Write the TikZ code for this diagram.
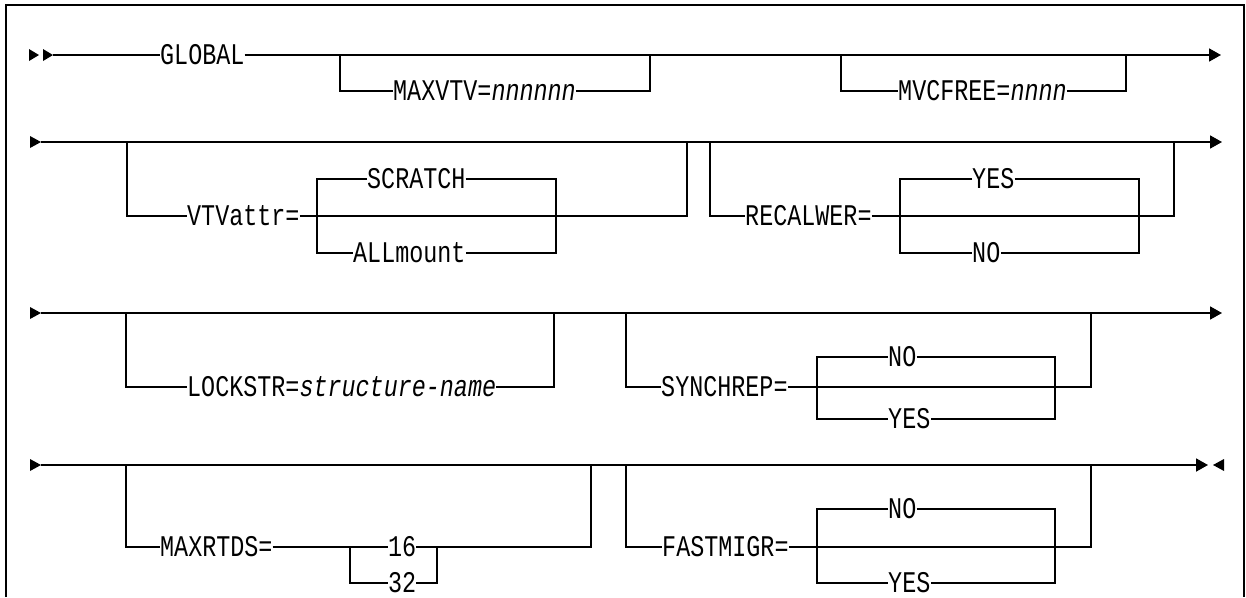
\documentclass[tikz,border=0pt]{standalone}
\usepackage{fontspec}
\newfontfamily\rrfont[FakeStretch=0.78]{Liberation Mono}
\usetikzlibrary{arrows.meta}
\begin{document}
\begin{tikzpicture}[x=1pt,y=-1pt,
  rail/.style={line width=1.8pt},
  lbl/.style={inner sep=0pt, text height=19.8pt, text depth=0pt, anchor=west,
    font=\rrfont\fontsize{30}{34}\selectfont},
  endarrow/.style={-{Triangle[length=12pt,width=13pt]}},
  frameline/.style={line width=2.5pt}]
\useasboundingbox (0,0) rectangle (1246,597);
% frame
\draw[frameline] (6,597) -- (6,5) -- (1244,5) -- (1244,597);

% ---------------- Row 1 ----------------
\fill (29,49) -- (39,55) -- (29,61) -- cycle;
\fill (43,49) -- (53,55) -- (43,61) -- cycle;
\coordinate (s1) at (53,55);
\coordinate (e1) at (1221,55);
\node[lbl] (global) at (160,55) {GLOBAL};
\draw[rail] (s1) -- (global.west);
\draw[rail,endarrow] (global.east) -- (e1);
% MAXVTV
\coordinate (mv1) at (340,55); \coordinate (mv2) at (340,91);
\coordinate (mv3) at (650,91); \coordinate (mv4) at (650,55);
\node[lbl] (maxvtv) at (393,91) {MAXVTV=\textit{nnnnnn}};
\draw[rail] (mv1) -- (mv2) -- (maxvtv.west);
\draw[rail] (maxvtv.east) -- (mv3) -- (mv4);
% MVCFREE
\coordinate (mf1) at (841,55); \coordinate (mf2) at (841,91);
\coordinate (mf3) at (1126,91); \coordinate (mf4) at (1126,55);
\node[lbl] (mvcfree) at (898,91) {MVCFREE=\textit{nnnn}};
\draw[rail] (mf1) -- (mf2) -- (mvcfree.west);
\draw[rail] (mvcfree.east) -- (mf3) -- (mf4);

% ---------------- Row 2 ----------------
\fill (30,136) -- (41,142) -- (30,148) -- cycle;
\coordinate (s2) at (41,142);
\coordinate (e2) at (1222,142);
\draw[rail,endarrow] (s2) -- (e2);
% VTVattr
\coordinate (vt1) at (127,142); \coordinate (vt2) at (127,216);
\coordinate (vt3) at (687,216); \coordinate (vt4) at (687,142);
\node[lbl] (vtvattr) at (187,216) {VTVattr=};
\draw[rail] (vt1) -- (vt2) -- (vtvattr.west);
\draw[rail] (vtvattr.east) -- (vt3) -- (vt4);
\coordinate (vi1) at (317,179); \coordinate (vi2) at (317,253);
\coordinate (vi3) at (556,179); \coordinate (vi4) at (556,253);
\node[lbl] (scratch) at (367,179) {SCRATCH};
\node[lbl] (allmount) at (353,253) {ALLmount};
\draw[rail] (scratch.west) -- (vi1) -- (vi2) -- (allmount.west);
\draw[rail] (scratch.east) -- (vi3) -- (vi4) -- (allmount.east);
% RECALWER
\coordinate (rc1) at (710,142); \coordinate (rc2) at (710,216);
\coordinate (rc3) at (1174,216); \coordinate (rc4) at (1174,142);
\node[lbl] (recalwer) at (745,216) {RECALWER=};
\draw[rail] (rc1) -- (rc2) -- (recalwer.west);
\draw[rail] (recalwer.east) -- (rc3) -- (rc4);
\coordinate (ri1) at (900,179); \coordinate (ri2) at (900,253);
\coordinate (ri3) at (1139,179); \coordinate (ri4) at (1139,253);
\node[lbl] (ryes) at (972,179) {YES};
\node[lbl] (rno) at (972,253) {NO};
\draw[rail] (ryes.west) -- (ri1) -- (ri2) -- (rno.west);
\draw[rail] (ryes.east) -- (ri3) -- (ri4) -- (rno.east);

% ---------------- Row 3 ----------------
\fill (30,307) -- (41,313) -- (30,319) -- cycle;
\coordinate (s3) at (41,313);
\coordinate (e3) at (1222,313);
\draw[rail,endarrow] (s3) -- (e3);
% LOCKSTR
\coordinate (lk1) at (126,313); \coordinate (lk2) at (126,387);
\coordinate (lk3) at (554,387); \coordinate (lk4) at (554,313);
\node[lbl] (lockstr) at (187,387) {LOCKSTR=\textit{structure-name}};
\draw[rail] (lk1) -- (lk2) -- (lockstr.west);
\draw[rail] (lockstr.east) -- (lk3) -- (lk4);
% SYNCHREP
\coordinate (sy1) at (626,313); \coordinate (sy2) at (626,387);
\coordinate (sy3) at (1091,387); \coordinate (sy4) at (1091,313);
\node[lbl] (synchrep) at (661,387) {SYNCHREP=};
\draw[rail] (sy1) -- (sy2) -- (synchrep.west);
\draw[rail] (synchrep.east) -- (sy3) -- (sy4);
\coordinate (si1) at (817,357); \coordinate (si2) at (817,419);
\coordinate (si3) at (1055,357); \coordinate (si4) at (1055,419);
\node[lbl] (sno) at (888,357) {NO};
\node[lbl] (syes) at (888,419) {YES};
\draw[rail] (sno.west) -- (si1) -- (si2) -- (syes.west);
\draw[rail] (sno.east) -- (si3) -- (si4) -- (syes.east);

% ---------------- Row 4 ----------------
\fill (30,459) -- (41,465) -- (30,471) -- cycle;
\coordinate (s4) at (41,465);
\coordinate (e4) at (1208,465);
\draw[rail,endarrow] (s4) -- (e4);
\fill (1224,459) -- (1213,465) -- (1224,471) -- cycle;
% MAXRTDS
\coordinate (mr1) at (126,465); \coordinate (mr2) at (126,547);
\coordinate (mr3) at (591,547); \coordinate (mr4) at (591,465);
\node[lbl] (maxrtds) at (160,547) {MAXRTDS=};
\node[lbl] (r16) at (388,547) {16};
\node[lbl] (r32) at (388,583) {32};
\coordinate (mi1) at (350,547); \coordinate (mi2) at (350,583);
\coordinate (mi3) at (437,547); \coordinate (mi4) at (437,583);
\draw[rail] (mr1) -- (mr2) -- (maxrtds.west);
\draw[rail] (maxrtds.east) -- (r16.west);
\draw[rail] (r16.east) -- (mr3) -- (mr4);
\draw[rail] (mi1) -- (mi2) -- (r32.west);
\draw[rail] (r32.east) -- (mi4) -- (mi3);
% FASTMIGR
\coordinate (fm1) at (626,465); \coordinate (fm2) at (626,547);
\coordinate (fm3) at (1091,547); \coordinate (fm4) at (1091,465);
\node[lbl] (fastmigr) at (662,547) {FASTMIGR=};
\draw[rail] (fm1) -- (fm2) -- (fastmigr.west);
\draw[rail] (fastmigr.east) -- (fm3) -- (fm4);
\coordinate (fi1) at (817,509); \coordinate (fi2) at (817,583);
\coordinate (fi3) at (1055,509); \coordinate (fi4) at (1055,583);
\node[lbl] (fno) at (888,509) {NO};
\node[lbl] (fyes) at (888,583) {YES};
\draw[rail] (fno.west) -- (fi1) -- (fi2) -- (fyes.west);
\draw[rail] (fno.east) -- (fi3) -- (fi4) -- (fyes.east);
\end{tikzpicture}
\end{document}
